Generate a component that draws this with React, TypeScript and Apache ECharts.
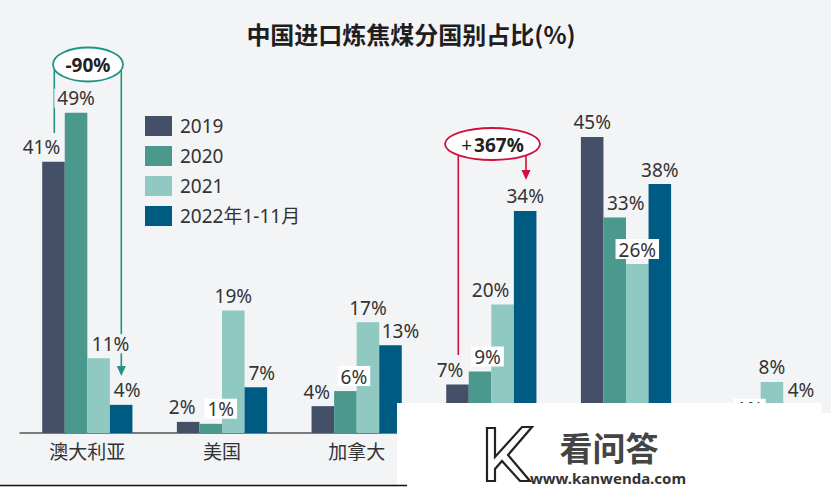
import React, { useEffect, useRef } from 'react';
import * as echarts from 'echarts';

const categories = ['澳大利亚', '美国', '加拿大', '俄罗斯', '蒙古', '其他'];
const seriesNames = ['2019', '2020', '2021', '2022年1-11月'];
const v2019 = [41.4, 1.7, 4.1, 7.4, 45.2, 1.0];
const v2020 = [48.9, 1.4, 6.4, 9.4, 32.9, 1.4];
const v2021 = [11.4, 18.7, 16.9, 19.6, 25.8, 7.8];
const v2022 = [4.3, 7.0, 13.4, 33.9, 38.0, 4.3];
const noteAus = '-90%';
const noteRus = '367%';

// label horizontal nudges (px) and label backgrounds: '' none, 'w' white, 'm' mask, 'h' covered (hidden)
const dx2019 = [-12, -6, -6, -7.5, 0, 0];
const dx2020 = [0, 10, 8.5, 7.5, 11, 0];
const dx2021 = [12, 0, 0, -12, 0, 0];
const dx2022 = [6, 6, 10, 0, 0, 6.5];
const bg2019 = ['', '', '', '', '', 'h'];
const bg2020 = ['m', 'w', 'w', 'w', '', 'w'];
const bg2021 = ['m', '', '', '', 'w', ''];
const bg2022 = ['', '', '', '', '', ''];

const BG = '#f3f4f6';
const COLORS = ['#435068', '#4b998d', '#8fc9c1', '#005b82'];
const TEAL = '#1f9487';
const RED = '#d0103a';
const FONT = '"Noto Sans", "Noto Sans CJK SC", sans-serif';
const CJK = '"Noto Sans CJK SC", "Noto Sans", sans-serif';

const K_PATH =
  'M12 13 L20 13 L20 42 L47 12 L57 12 L33 40 L55 66 L45 66 L27 46 L20 54 L20 66 L12 66 Z';

export default function App() {
  const ref = useRef<HTMLDivElement>(null);
  useEffect(() => {
    if (!ref.current) return;
    try {
      echarts.graphic.registerShape('klogo', echarts.graphic.extendPath(K_PATH, {}));
    } catch (e) {}
    const chart = echarts.init(ref.current, null, { renderer: 'svg' });
    const mk = (vals: number[], dx: number[], bgs: string[]) =>
      vals.map((v, i) => {
        const label: any = { offset: [dx[i], 0] };
        if (bgs[i] === 'w') {
          label.backgroundColor = '#ffffff';
          label.padding = [1, 3, 0, 3];
        } else if (bgs[i] === 'm') {
          label.backgroundColor = BG;
          label.padding = [0, 3];
        } else if (bgs[i] === 'h') {
          label.show = false;
        }
        return { value: v, label };
      });
    const all = [
      mk(v2019, dx2019, bg2019),
      mk(v2020, dx2020, bg2020),
      mk(v2021, dx2021, bg2021),
      mk(v2022, dx2022, bg2022),
    ];
    const option: any = {
      animation: false,
      backgroundColor: BG,
      textStyle: { fontFamily: FONT },
      title: {
        text: '中国进口炼焦煤分国别占比(%)',
        left: 406,
        top: 16,
        textAlign: 'center',
        textStyle: { fontFamily: CJK, fontSize: 24, fontWeight: 'bold', color: '#1e1e1e' },
      },
      legend: {
        orient: 'vertical',
        left: 140,
        top: 111,
        itemWidth: 27,
        itemHeight: 20,
        itemGap: 10,
        icon: 'rect',
        data: seriesNames,
        textStyle: { fontSize: 19, color: '#333', fontFamily: FONT, padding: [0, 0, 0, 3] },
      },
      grid: { left: 20, right: 3, top: 40, bottom: 54, containLabel: false },
      xAxis: {
        type: 'category',
        data: categories,
        axisLine: { lineStyle: { color: '#555', width: 1.5 } },
        axisTick: { show: false },
        axisLabel: {
          fontSize: 19,
          color: '#333',
          margin: 8,
          fontFamily: CJK,
          // the last three category names lie under the watermark in the reference
          formatter: (val: string, idx: number) => (idx < 3 ? val : ''),
        },
      },
      yAxis: { type: 'value', min: 0, max: 60, show: false },
      series: seriesNames.map((name, k) => ({
        name,
        type: 'bar',
        data: all[k],
        barGap: '0%',
        barCategoryGap: '33%',
        itemStyle: { color: COLORS[k] },
        label: {
          show: true,
          position: 'top',
          distance: 5,
          fontSize: 19,
          color: '#333',
          fontFamily: FONT,
          formatter: (p: any) => Math.round(p.value) + '%',
        },
      })),
      graphic: [
        // Australia annotation
        { type: 'line', z: 0, shape: { x1: 54.3, y1: 69, x2: 54.3, y2: 133 }, style: { stroke: TEAL, lineWidth: 1.6 } },
        { type: 'line', z: 0, shape: { x1: 121.3, y1: 70.5, x2: 121.3, y2: 367 }, style: { stroke: TEAL, lineWidth: 1.6 } },
        { type: 'polygon', z: 0, shape: { points: [[116.8, 366], [125.8, 366], [121.3, 376]] }, style: { fill: TEAL } },
        { type: 'ellipse', z: 10, shape: { cx: 88, cy: 64.5, rx: 35, ry: 17 }, style: { fill: '#ffffff', stroke: TEAL, lineWidth: 1.8 } },
        {
          type: 'text', z: 11, x: 88, y: 65,
          style: { text: noteAus, fontSize: 19, fontWeight: 'bold', fontFamily: FONT, fill: '#222', align: 'center', verticalAlign: 'middle' },
        },
        // Russia annotation
        { type: 'line', z: 0, shape: { x1: 458.3, y1: 155, x2: 458.3, y2: 355 }, style: { stroke: RED, lineWidth: 1.6 } },
        { type: 'line', z: 0, shape: { x1: 526, y1: 155.5, x2: 526, y2: 172 }, style: { stroke: RED, lineWidth: 1.6 } },
        { type: 'polygon', z: 0, shape: { points: [[521.5, 170], [530.5, 170], [526, 180]] }, style: { fill: RED } },
        { type: 'ellipse', z: 10, shape: { cx: 492.5, cy: 144, rx: 47.5, ry: 16 }, style: { fill: '#ffffff', stroke: RED, lineWidth: 1.8 } },
        {
          type: 'text', z: 11, x: 492.5, y: 144.5,
          style: {
            text: '{a|+}{b|' + noteRus + '}',
            align: 'center',
            verticalAlign: 'middle',
            rich: {
              a: { fontSize: 19, fontFamily: FONT, fill: '#222', color: '#222', padding: [0, 2, 0, 0] },
              b: { fontSize: 19, fontWeight: 'bold', fontFamily: FONT, fill: '#222', color: '#222' },
            },
          },
        },
        // watermark overlay
        { type: 'rect', z: 100, shape: { x: 397, y: 403, width: 424, height: 84 }, style: { fill: '#ffffff' } },
        { type: 'rect', z: 100, shape: { x: 397, y: 413, width: 434, height: 74 }, style: { fill: '#ffffff' } },
        { type: 'line', z: 100, shape: { x1: 0, y1: 485.5, x2: 407, y2: 485.5 }, style: { stroke: '#111', lineWidth: 1.5 } },
        { type: 'klogo', z: 101, x: 475, y: 415, style: { fill: '#ffffff', stroke: '#222', lineWidth: 2.2 } },
        {
          type: 'text', z: 101, x: 609, y: 447,
          style: { text: '看问答', fontSize: 33, fontWeight: 'bold', fontFamily: CJK, fill: '#444', align: 'center', verticalAlign: 'middle' },
        },
        {
          type: 'text', z: 101, x: 608, y: 478,
          style: { text: 'www.kanwenda.com', fontSize: 15, fontWeight: 'bold', fontFamily: FONT, fill: '#333', align: 'center', verticalAlign: 'middle' },
        },
      ],
    };
    chart.setOption(option);
    return () => chart.dispose();
  }, []);
  return (
    <div
      ref={ref}
      style={{ position: 'fixed', left: 0, top: 0, width: 831, height: 487, background: BG }}
    />
  );
}
